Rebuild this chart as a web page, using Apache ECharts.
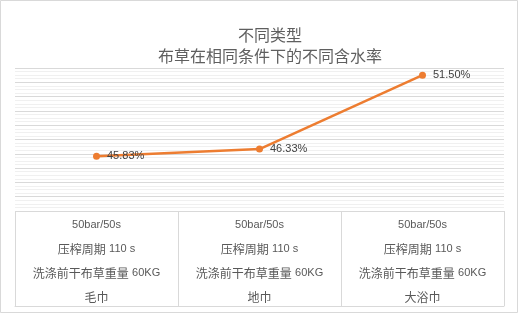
<!DOCTYPE html>
<html><head><meta charset="utf-8">
<script src="https://cdn.jsdelivr.net/npm/echarts@6/dist/echarts.min.js"></script>
<style>html,body{margin:0;padding:0;background:#fff}#c{width:518px;height:313px}</style>
</head><body><div id="c"></div>
<script>
const categories = ['毛巾', '地巾', '大浴巾'];
const pressure = ['50bar/50s', '50bar/50s', '50bar/50s'];
const cycleLabel = ['压榨周期', '压榨周期', '压榨周期'];
const cycleValue = ['110 s', '110 s', '110 s'];
const weightLabel = ['洗涤前干布草重量', '洗涤前干布草重量', '洗涤前干布草重量'];
const weightValue = ['60KG', '60KG', '60KG'];
const moisture = [45.83, 46.33, 51.50];
const yMin = 42, yMax = 52, yStep = 1;

const cjk = '"Noto Sans CJK SC", sans-serif';
const lat = '"Liberation Sans", "DejaVu Sans", sans-serif';
const chart = echarts.init(document.getElementById('c'), null, {renderer: 'canvas'});
chart.setOption({
  animation: false,
  backgroundColor: '#fff',
  title: {
    text: '不同类型\n布草在相同条件下的不同含水率',
    left: 270, top: 24, textAlign: 'center', padding: 0,
    textStyle: {fontFamily: cjk, fontSize: 16, fontWeight: 'normal', color: '#5f5f5f', lineHeight: 21}
  },
  graphic: [{type: 'rect', silent: true, shape: {x: 0.5, y: 0.5, width: 517, height: 312},
    style: {fill: 'none', stroke: '#d9d9d9', lineWidth: 1}}],
  grid: [
    {left: 15, right: 14, top: 68, height: 143},
    {left: 15, right: 14, top: 211, height: 95}
  ],
  xAxis: [
    {gridIndex: 0, type: 'category', data: categories, boundaryGap: true,
      axisLine: {show: false}, axisTick: {show: false}, axisLabel: {show: false}, splitLine: {show: false}},
    {gridIndex: 1, type: 'category', data: categories, boundaryGap: true, position: 'top',
      axisLine: {show: true, lineStyle: {color: '#d9d9d9', width: 1}},
      axisTick: {show: false},
      splitLine: {show: true, lineStyle: {color: '#d9d9d9', width: 1}},
      axisLabel: {
        inside: true, margin: 2, interval: 0,
        formatter: function (v, i) {
          return '{a|' + pressure[i] + '}\n{b|' + cycleLabel[i] + '} {a|' + cycleValue[i] + '}\n{b|' +
            weightLabel[i] + '} {a|' + weightValue[i] + '}\n{b|' + categories[i] + '}';
        },
        rich: {
          a: {fontFamily: lat, fontSize: 11, color: '#595959', lineHeight: 24},
          b: {fontFamily: cjk, fontSize: 12, color: '#595959', lineHeight: 24}
        }
      }}
  ],
  yAxis: [
    {gridIndex: 0, type: 'value', min: yMin, max: yMax, interval: yStep,
      axisLine: {show: false}, axisTick: {show: false}, axisLabel: {show: false},
      splitLine: {show: true, lineStyle: {color: '#d9d9d9', width: 1}},
      minorTick: {show: false, splitNumber: 4},
      minorSplitLine: {show: true, lineStyle: {color: '#f0f0f0', width: 1}}},
    {gridIndex: 1, type: 'value', show: false}
  ],
  series: [{
    type: 'line', xAxisIndex: 0, yAxisIndex: 0, data: moisture,
    symbol: 'circle', symbolSize: 7,
    lineStyle: {color: '#ED7D31', width: 2.5},
    itemStyle: {color: '#ED7D31'},
    label: {show: true, position: 'right', distance: 7, fontFamily: lat, fontSize: 11, color: '#404040',
      formatter: function (p) { return p.value.toFixed(2) + '%'; }}
  }]
});
</script></body></html>
